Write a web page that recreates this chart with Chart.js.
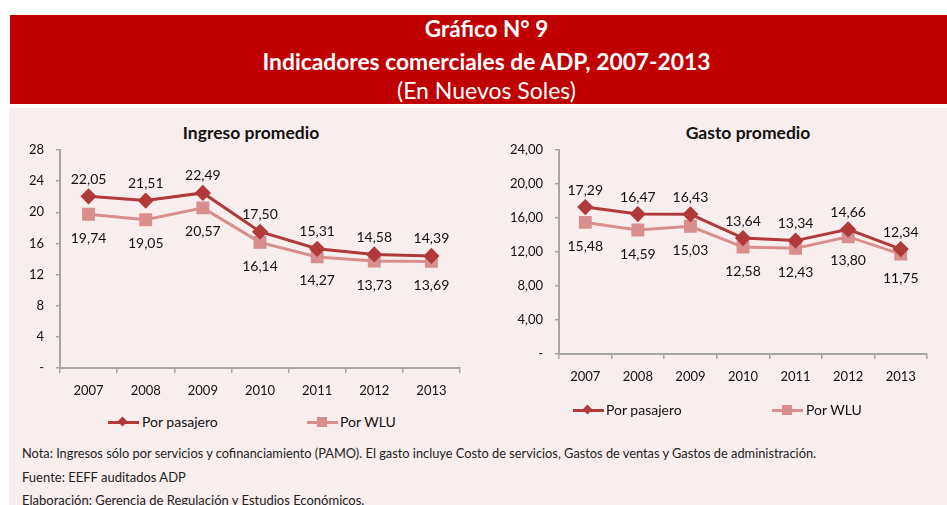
<!DOCTYPE html>
<html><head><meta charset="utf-8">
<script src="https://cdn.jsdelivr.net/npm/chart.js@4.4.0/dist/chart.umd.min.js"></script>
<style>
html,body{margin:0;padding:0;background:#fff;width:947px;height:505px;overflow:hidden;font-family:Lato,"Open Sans",sans-serif;}
#hdr{position:absolute;left:10px;top:15px;width:937px;height:89px;background:#C00000;color:#fff;text-align:center;}
#hdr div{position:absolute;left:8px;width:100%;line-height:26px;}
#panel{position:absolute;left:9px;top:108px;width:938px;height:397px;background:#F9EEEE;}
.ctitle{position:absolute;font-weight:bold;font-size:17.5px;color:#111;text-align:center;width:300px;line-height:20px;}
canvas{position:absolute;}
.leg{position:absolute;font-size:14px;color:#111;line-height:18px;white-space:nowrap;}
.leg .ln{position:absolute;top:8px;width:31px;height:3px;}
.leg .mk{position:absolute;}
.note{position:absolute;left:22px;font-size:12.8px;color:#222;white-space:nowrap;line-height:16px;}
</style></head>
<body>
<div id="hdr">
  <div style="top:1px;font-weight:bold;font-size:22.5px;">Gráfico N° 9</div>
  <div style="top:33px;font-weight:bold;font-size:22.8px;">Indicadores comerciales de ADP, 2007-2013</div>
  <div style="top:62px;font-size:23px;">(En Nuevos Soles)</div>
</div>
<div id="panel"></div>
<div class="ctitle" style="left:101px;top:123px;">Ingreso promedio</div>
<div class="ctitle" style="left:598px;top:123px;">Gasto promedio</div>
<canvas id="c1" width="465" height="300" style="left:10px;top:110px;width:465px;height:300px;"></canvas>
<canvas id="c2" width="460" height="300" style="left:480px;top:110px;width:460px;height:300px;"></canvas>

<div class="leg" style="left:108px;top:413px;"><span class="ln" style="left:0;background:#B03A3A"></span><span class="mk" style="left:11px;top:5px;width:7px;height:7px;background:#B03A3A;transform:rotate(45deg)"></span><span style="margin-left:34px">Por pasajero</span></div>
<div class="leg" style="left:307px;top:413px;"><span class="ln" style="left:0;background:#D98E8E"></span><span class="mk" style="left:10px;top:4px;width:10px;height:10px;background:#D98E8E"></span><span style="margin-left:33px">Por WLU</span></div>
<div class="leg" style="left:573px;top:401px;"><span class="ln" style="left:0;background:#B03A3A"></span><span class="mk" style="left:11px;top:5px;width:7px;height:7px;background:#B03A3A;transform:rotate(45deg)"></span><span style="margin-left:33px">Por pasajero</span></div>
<div class="leg" style="left:772px;top:401px;"><span class="ln" style="left:0;background:#D98E8E"></span><span class="mk" style="left:10px;top:4px;width:10px;height:10px;background:#D98E8E"></span><span style="margin-left:34px">Por WLU</span></div>

<div class="note" style="top:445px;">Nota: Ingresos sólo por servicios y cofinanciamiento (PAMO). El gasto incluye Costo de servicios, Gastos de ventas y Gastos de administración.</div>
<div class="note" style="top:469px;font-size:13px;">Fuente: EEFF auditados ADP</div>
<div class="note" style="top:492px;font-size:13px;">Elaboración: Gerencia de Regulación y Estudios Económicos.</div>

<script>
const years = ["2007","2008","2009","2010","2011","2012","2013"];
const ingresoPasajero = [22.05, 21.51, 22.49, 17.50, 15.31, 14.58, 14.39];
const ingresoWLU      = [19.74, 19.05, 20.57, 16.14, 14.27, 13.73, 13.69];
const gastoPasajero   = [17.29, 16.47, 16.43, 13.64, 13.34, 14.66, 12.34];
const gastoWLU        = [15.48, 14.59, 15.03, 12.58, 12.43, 13.80, 11.75];
const ingresoTicks = [0, 4, 8, 12, 16, 20, 24, 28];
const gastoTicks   = [0, 4, 8, 12, 16, 20, 24];

const C_PAS = "#B03A3A", C_WLU = "#D98E8E", AXIS = "#A6A6A6";
const fmt = v => v.toFixed(2).replace(".", ",");

const labelPlugin = {
  id: "vlabels",
  afterDatasetsDraw(chart) {
    const ctx = chart.ctx;
    ctx.save();
    ctx.font = "14px Lato, 'Open Sans', sans-serif";
    ctx.fillStyle = "#111";
    ctx.textAlign = "center";
    ctx.textBaseline = "middle";
    chart.data.datasets.forEach((ds, di) => {
      const meta = chart.getDatasetMeta(di);
      meta.data.forEach((pt, i) => {
        const off = di === 0 ? -17 : 24;
        ctx.fillText(fmt(ds.data[i]), pt.x, pt.y + off);
      });
    });
    ctx.restore();
  }
};

function makeChart(id, a, b, ticksArr, yW, padR, tickFmt, xH) {
  const maxV = ticksArr[ticksArr.length - 1];
  return new Chart(document.getElementById(id), {
    type: "line",
    data: {
      labels: years,
      datasets: [
        { label: "Por pasajero", data: a, borderColor: C_PAS, backgroundColor: C_PAS, borderWidth: 3,
          pointStyle: "rectRot", pointRadius: 6, pointHoverRadius: 6, tension: 0 },
        { label: "Por WLU", data: b, borderColor: C_WLU, backgroundColor: C_WLU, borderWidth: 3,
          pointStyle: "rect", pointRadius: 7, pointHoverRadius: 7, tension: 0 }
      ]
    },
    options: {
      responsive: false, animation: false, devicePixelRatio: 1,
      layout: { padding: { top: 40, right: padR, left: 0, bottom: 0 } },
      plugins: { legend: { display: false }, title: { display: false }, tooltip: { enabled: false } },
      scales: {
        x: {
          offset: true,
          grid: { offset: true, drawOnChartArea: false, drawTicks: true, tickLength: 5, color: AXIS, lineWidth: 1.5 },
          border: { color: AXIS, width: 2 },
          ticks: { color: "#111", font: { size: 13, family: "Lato" }, padding: 10, maxRotation: 0 },
          afterFit: s => { s.height = xH; }
        },
        y: {
          min: 0, max: maxV,
          afterBuildTicks: s => { s.ticks = ticksArr.map(v => ({ value: v })); },
          grid: { drawOnChartArea: false, drawTicks: true, tickLength: 4, color: AXIS, lineWidth: 1.5 },
          border: { color: AXIS, width: 2 },
          ticks: { color: "#111", font: { size: 13, family: "Lato" }, padding: 12, callback: tickFmt },
          afterFit: s => { s.width = yW; }
        }
      }
    },
    plugins: [labelPlugin]
  });
}

makeChart("c1", ingresoPasajero, ingresoWLU, ingresoTicks, 50, 15, v => v === 0 ? "-" : String(v), 42);
makeChart("c2", gastoPasajero, gastoWLU, gastoTicks, 79, 13, v => v === 0 ? "-" : fmt(v), 56);
</script>
</body></html>
